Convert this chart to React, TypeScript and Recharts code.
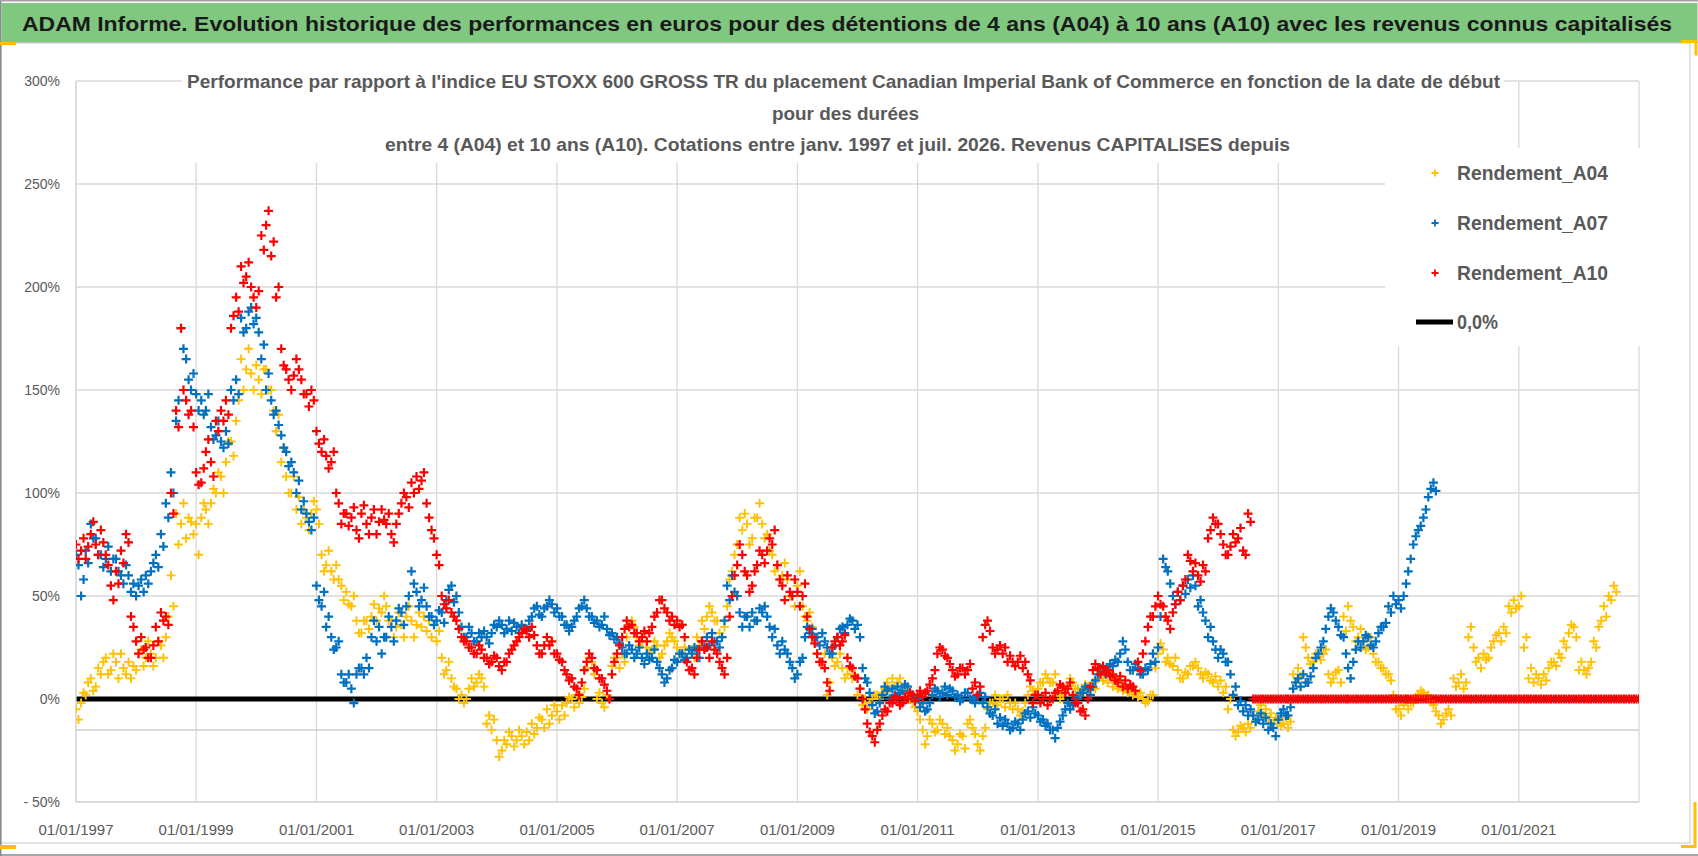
import React from 'react';
import { ComposedChart, Scatter, Line, XAxis, YAxis, CartesianGrid, ReferenceLine } from 'recharts';

const startYear = 1997;

// readings at the start of each month, from 01/1997
const rendementA04 = [
  -5, -2, 2, 10, 6, 12, 20, 14, 18, 22,
  12, 10, 14, 24, 20, 22, 20, 26, 30, 60,
  90, 85, 78, 86, 85, 88, 92, 95, 100, 108,
  115, 125, 135, 165, 160, 158, 162, 148, 160, 150,
  130, 115, 108, 100, 92, 85, 88, 90, 92, 70,
  65, 62, 65, 55, 52, 45, 38, 32, 38, 40,
  38, 42, 45, 38, 35, 36, 40, 38, 36, 35,
  33, 30, 28, 20, 14, 10, 5, 2, 0, 10,
  8, 10, -12, -15, -20, -25, -22, -18, -20, -18,
  -16, -12, -14, -10, -5, -8, -6, -3, -2, 0,
  2, 1, 15, 18, 0, -2, 2, 16, 20, 22,
  30, 38, 30, 28, 25, 24, 26, 22, 28, 30,
  25, 22, 20, 24, 30, 38, 40, 42, 38, 30,
  45, 62, 75, 82, 85, 78, 88, 85, 80, 70,
  65, 60, 58, 50, 55, 45, 38, 35, 22, 18,
  2, 20, 18, 15, 12, 10, 2, -3, -5, 0,
  2, 3, 8, 10, 8, 6, 2, -2, -6, -15,
  -18, -12, -15, -12, -14, -20, -22, -18, -12, -14,
  -22, -18, -5, -2, -3, 0, 2, -5, -5, -6,
  2, 4, 5, 8, 10, 8, 3, 2, 6, 8,
  5, 4, 6, 8, 10, 9, 8, 6, 5, 4,
  3, 2, 1, 0, -1, 2, 22, 24, 20, 16,
  14, 10, 12, 16, 15, 10, 12, 8, 6, 3,
  -5, -15, -16, -14, -12, -8, -6, -8, -10, -12,
  -10, -12, -14, 12, 15, 30, 20, 18, 22, 22,
  12, 10, 14, 40, 45, 35, 30, 28, 25, 22,
  18, 15, 12, 2, -5, -3, -5, -2, 2, 3,
  2, -3, -8, -10, -5, 10, 8, 5, 30, 25,
  20, 22, 20, 28, 32, 35, 45, 48, 45, 25,
  10, 8, 10, 12, 15, 18, 22, 28, 32, 35,
  14, 14, 15, 28, 35, 45, 50, 55,
];

// readings in the middle of each month (the other side of the cloud)
const rendementA04Mid = [
  -10, 3, 8, 4, 15, 18, 12, 22, 10, 15,
  18, 16, 22, 16, 28, 16, 28, 20, 40, 45,
  75, 95, 88, 80, 70, 95, 85, 102, 110, 100,
  125, 118, 145, 150, 170, 150, 155, 160, 150, 140,
  138, 122, 100, 108, 98, 92, 82, 96, 85, 62,
  72, 58, 58, 48, 46, 50, 32, 38, 34, 46,
  44, 50, 38, 30, 42, 30, 45, 30, 42, 40,
  38, 36, 33, 12, 18, 6, 0, -2, 5, 6,
  12, 6, -8, -10, -28, -20, -16, -23, -15, -22,
  -20, -17, -9, -14, -12, -3, -10, -8, 1, -4,
  -2, 5, 20, 12, 3, -4, 0, 20, 15, 18,
  36, 35, 26, 32, 22, 28, 20, 26, 32, 28,
  22, 25, 24, 20, 26, 34, 45, 38, 32, 35,
  58, 70, 88, 90, 75, 88, 95, 78, 72, 62,
  58, 66, 50, 45, 62, 40, 42, 30, 18, 22,
  8, 16, 22, 10, 15, 12, 5, 0, -2, 2,
  0, 5, 5, 6, 10, 4, 0, -4, -10, -22,
  -10, -16, -10, -17, -18, -25, -17, -24, -10, -17,
  -25, -14, -2, 2, 0, -4, -2, -2, -8, -2,
  6, 2, 8, 12, 8, 12, 0, 5, 10, 5,
  2, 7, 2, 5, 13, 12, 13, 10, 7, 6,
  5, 4, 3, -2, 2, 15, 27, 18, 17, 20,
  10, 13, 16, 18, 12, 13, 9, 11, 9, 6,
  0, -18, -13, -16, -14, -11, -3, -5, -7, -9,
  -13, -9, -11, 8, 11, 25, 17, 22, 19, 24,
  8, 13, 8, 33, 38, 28, 34, 24, 30, 18,
  15, 12, 9, -5, -8, 0, -2, 1, 4, 1,
  -1, -6, -12, -7, -8, 6, 12, 8, 35, 18,
  15, 19, 25, 31, 28, 32, 42, 44, 50, 30,
  15, 12, 7, 9, 18, 16, 20, 25, 36, 30,
  18, 12, 18, 25, 38, 40, 48, 52,
];

const rendementA07 = [
  70, 50, 72, 85, 78, 70, 68, 62, 68, 60,
  65, 52, 50, 58, 60, 62, 70, 80, 95, 110,
  135, 180, 165, 150, 148, 145, 140, 132, 128, 125,
  130, 150, 155, 185, 180, 190, 185, 165, 150, 145,
  140, 128, 120, 115, 100, 92, 90, 82, 55, 45,
  35, 30, 25, 12, 8, 5, 12, 15, 20, 30,
  28, 22, 30, 35, 38, 42, 45, 62, 52, 48,
  45, 40, 38, 42, 48, 55, 50, 35, 30, 32,
  28, 30, 30, 32, 35, 36, 34, 33, 35, 36,
  34, 40, 45, 40, 45, 46, 44, 40, 36, 35,
  40, 45, 44, 40, 38, 36, 34, 32, 30, 25,
  22, 24, 22, 20, 22, 20, 18, 12, 10, 15,
  18, 22, 20, 22, 24, 28, 30, 32, 28, 30,
  55, 60, 50, 35, 40, 42, 38, 42, 40, 30,
  26, 28, 22, 15, 12, 20, 35, 34, 30, 32,
  25, 22, 30, 35, 36, 38, 36, 15, 8, -3,
  -6, 2, 4, 5, 6, 4, 6, 2, 0, -2,
  -5, 2, 4, 3, 2, 4, 2, 0, 3, 0,
  1, -2, -4, -8, -12, -13, -12, -14, -12, -10,
  -6, -4, -8, -10, -12, -15, -14, -8, -2, -3,
  0, 3, 5, 6, 12, 15, 14, 16, 18, 28,
  18, 14, 15, 12, 14, 22, 25, 68, 62, 50,
  52, 55, 58, 60, 45, 42, 30, 28, 20, 22,
  18, 2, -3, -6, -8, -8, -10, -12, -15, -14,
  -10, -5, -8, 5, 10, 12, 8, 15, 22, 28,
  40, 42, 35, 30, 15, 18, 28, 28, 30, 25,
  32, 35, 45, 50, 48, 50, 62, 75, 82, 88, 98, 105,
];

const rendementA07Mid = [
  65, 58, 66, 78, 70, 64, 74, 68, 62, 56,
  60, 56, 55, 52, 56, 66, 64, 74, 88, 100,
  145, 170, 155, 158, 140, 138, 148, 126, 135, 122,
  124, 145, 148, 178, 188, 182, 178, 172, 158, 138,
  133, 122, 113, 110, 106, 96, 86, 88, 48, 52,
  40, 24, 28, 8, 12, -2, 15, 12, 15, 38,
  35, 30, 40, 28, 44, 36, 50, 56, 45, 54,
  40, 36, 43, 37, 53, 47, 42, 30, 35, 28,
  32, 33, 27, 36, 38, 32, 38, 37, 32, 34,
  38, 44, 41, 44, 48, 42, 40, 36, 33, 38,
  44, 48, 40, 37, 35, 40, 31, 29, 27, 22,
  26, 20, 25, 17, 19, 24, 15, 8, 14, 19,
  22, 19, 24, 25, 20, 25, 26, 28, 25, 38,
  48, 52, 42, 40, 35, 38, 44, 45, 35, 34,
  22, 24, 18, 10, 18, 30, 32, 30, 26, 28,
  22, 26, 34, 32, 39, 34, 30, 10, 3, -7,
  -2, 6, 0, 2, 3, 7, 3, -1, -4, -6,
  -2, 5, 1, 6, 5, 1, -1, 3, 0, -2,
  3, 1, -7, -5, -9, -10, -15, -11, -15, -7,
  -9, -7, -11, -13, -15, -19, -11, -5, -5, 0,
  3, 6, 2, 9, 15, 12, 17, 19, 22, 24,
  14, 17, 12, 15, 17, 18, 40, 64, 56, 46,
  48, 51, 54, 55, 48, 38, 35, 24, 24, 18,
  12, 6, -1, -3, -5, -11, -7, -9, -12, -18,
  -7, -8, -4, 8, 6, 8, 11, 20, 25, 34,
  44, 38, 31, 22, 10, 24, 25, 31, 26, 28,
  35, 37, 42, 46, 44, 56, 68, 79, 84, 92, 102, 101,
];

const rendementA10 = [
  75, 72, 68, 80, 75, 82, 70, 55, 62, 72,
  80, 40, 28, 30, 25, 20, 35, 42, 40, 100,
  140, 180, 145, 140, 110, 105, 120, 115, 135, 140,
  145, 180, 195, 210, 205, 200, 190, 225, 230, 215,
  195, 170, 160, 150, 165, 155, 148, 150, 130, 120,
  118, 115, 100, 85, 90, 88, 82, 90, 85, 88,
  80, 92, 85, 80, 85, 95, 98, 105, 108, 106,
  95, 82, 70, 50, 44, 42, 38, 30, 28, 25,
  22, 24, 20, 18, 20, 14, 18, 24, 28, 32,
  33, 35, 26, 22, 30, 28, 22, 18, 12, 10,
  5, 8, 18, 20, 14, 10, 4, 12, 22, 30,
  38, 36, 32, 30, 28, 35, 42, 48, 42, 40,
  38, 36, 18, 15, 20, 28, 25, 28, 22, 15,
  20, 50, 65, 70, 60, 55, 65, 70, 72, 75,
  65, 55, 60, 50, 52, 50, 40, 30, 22, 18,
  8, 25, 30, 28, 20, 15, 10, 0, -12, -18,
  -15, -8, -6, -2, 0, -2, 0, 2, 2, 1,
  4, 10, 22, 24, 20, 14, 12, 15, 14, 5,
  2, 30, 38, 25, 24, 22, 18, 18, 18, 15,
  12, -2, 2, 0, -3, 0, 4, 6, 5, 2,
  -2, -5, 0, 14, 15, 16, 14, 12, 8, 6,
  5, 6, 18, 22, 35, 40, 50, 45, 38, 42,
  52, 55, 70, 62, 60, 65, 78, 88, 85, 75,
  70, 80, 78, 72, 90,
];

const rendementA10Mid = [
  68, 78, 74, 86, 70, 76, 65, 48, 56, 66,
  76, 35, 22, 24, 20, 26, 28, 38, 36, 90,
  132, 150, 138, 132, 104, 112, 126, 108, 130, 135,
  138, 186, 188, 202, 212, 195, 198, 218, 237, 222,
  200, 162, 155, 157, 160, 148, 142, 145, 124, 126,
  112, 120, 95, 90, 84, 93, 78, 94, 80, 92,
  86, 87, 90, 76, 90, 100, 93, 100, 102, 110,
  88, 78, 65, 46, 48, 40, 34, 28, 25, 22,
  26, 20, 17, 21, 16, 18, 22, 26, 30, 34,
  30, 31, 22, 26, 26, 22, 19, 14, 9, 6,
  2, 14, 22, 15, 10, 7, 0, 18, 26, 34,
  35, 32, 28, 33, 32, 40, 48, 44, 38, 36,
  35, 30, 14, 12, 24, 24, 20, 24, 18, 12,
  40, 60, 75, 62, 52, 62, 72, 66, 78, 82,
  58, 48, 52, 58, 45, 56, 34, 27, 18, 15,
  4, 28, 26, 31, 16, 11, 5, -5, -16, -21,
  -12, -5, -2, 1, -3, 1, 3, -1, 4, 3,
  7, 14, 25, 21, 17, 11, 15, 12, 17, 8,
  6, 36, 33, 22, 26, 25, 21, 16, 21, 18,
  9, 2, -2, 3, 0, 3, 7, 3, 8, -2,
  -6, -8, 6, 17, 12, 13, 11, 9, 11, 9,
  7, 4, 14, 28, 40, 45, 46, 40, 34, 46,
  48, 58, 67, 66, 57, 62, 82, 85, 80, 70,
  74, 76, 83, 70, 86,
];

// A10 reads 0 once the 10-year window runs past the last quote (07/2016 -> 12/2022)
const rendementA10Zero = [
  0, 0, 0, 0, 0, 0, 0, 0, 0, 0, 0, 0, 0,
  0, 0, 0, 0, 0, 0, 0, 0, 0, 0, 0, 0, 0,
  0, 0, 0, 0, 0, 0, 0, 0, 0, 0, 0, 0, 0,
  0, 0, 0, 0, 0, 0, 0, 0, 0, 0, 0, 0, 0,
  0, 0, 0, 0, 0, 0, 0, 0, 0, 0, 0, 0, 0,
  0, 0, 0, 0, 0, 0, 0, 0, 0, 0, 0, 0, 0,
];

const yTicks = [-50, 0, 50, 100, 150, 200, 250, 300];
const xTickYears = [1997, 1999, 2001, 2003, 2005, 2007, 2009, 2011, 2013, 2015, 2017, 2019, 2021];
const endYear = 2023;

const mainTitle =
  'ADAM Informe. Evolution historique des performances en euros pour des détentions de 4 ans (A04) à 10 ans (A10) avec les revenus connus capitalisés';
const chartTitle = [
  "Performance par rapport à l'indice EU STOXX 600 GROSS TR  du placement Canadian Imperial Bank of Commerce en fonction de la date de début",
  'pour des durées',
  'entre 4 (A04) et 10 ans (A10). Cotations entre janv. 1997 et juil. 2026. Revenus CAPITALISES depuis',
];
const legendItems = [
  { name: 'Rendement_A04', color: '#FFC000' },
  { name: 'Rendement_A07', color: '#0070C0' },
  { name: 'Rendement_A10', color: '#FF0000' },
];

const toPoints = (values: number[], day: number) =>
  values.map((v, i) => ({ t: Date.UTC(startYear, i, day), v }));

const dataA04 = [...toPoints(rendementA04, 1), ...toPoints(rendementA04Mid, 16)];
const dataA07 = [...toPoints(rendementA07, 1), ...toPoints(rendementA07Mid, 16)];
const dataA10 = [
  ...toPoints([...rendementA10, ...rendementA10Zero], 1),
  ...toPoints([...rendementA10Mid, ...rendementA10Zero], 16),
];
const zeroLine = [
  { t: Date.UTC(startYear, 0, 1), v: 0 },
  { t: Date.UTC(endYear, 0, 1), v: 0 },
];

const sans = "'Liberation Sans', Arial, sans-serif";
const grey = '#595959';

const plus = (color: string, w: number) => (props: any) => {
  const { cx, cy } = props;
  if (cx == null || cy == null) return <g />;
  return (
    <path
      d={`M${cx - 4.5},${cy}h9M${cx},${cy - 4.5}v9`}
      stroke={color}
      strokeWidth={w}
      fill="none"
    />
  );
};

const fmtDate = (t: number) => `01/01/${new Date(t).getUTCFullYear()}`;
const fmtPct = (v: number) => (v < 0 ? `- ${-v}%` : `${v}%`);

const App: React.FC = () => {
  return (
    <div style={{ position: 'absolute', left: 0, top: 0, width: 1698, height: 856, background: '#fff' }}>
      <ComposedChart
        width={1698}
        height={856}
        margin={{ top: 81, right: 59, bottom: 24, left: 16 }}
      >
        <CartesianGrid stroke="#d9d9d9" strokeWidth={1.3} />
        <XAxis
          type="number"
          dataKey="t"
          domain={[Date.UTC(startYear, 0, 1), Date.UTC(endYear, 0, 1)]}
          ticks={xTickYears.map((y) => Date.UTC(y, 0, 1))}
          tickFormatter={fmtDate}
          height={30}
          tickSize={0}
          tickMargin={22}
          axisLine={{ stroke: '#d9d9d9', strokeWidth: 1.3 }}
          tick={{ fill: grey, fontSize: 15, fontFamily: sans }}
          allowDataOverflow
        />
        <YAxis
          type="number"
          dataKey="v"
          domain={[-50, 300]}
          ticks={yTicks}
          tickFormatter={fmtPct}
          width={60}
          tickSize={0}
          tickMargin={16}
          axisLine={{ stroke: '#d9d9d9', strokeWidth: 1.3 }}
          tick={{ fill: grey, fontSize: 14, fontFamily: sans }}
        />
        <ReferenceLine y={-15} stroke="#cfcfcf" strokeWidth={1.5} />
        <Line
          data={zeroLine}
          dataKey="v"
          stroke="#000"
          strokeWidth={5}
          dot={false}
          isAnimationActive={false}
          legendType="none"
        />
        <Scatter data={dataA04} fill="#FFC000" shape={plus('#FFC000', 1.9)} isAnimationActive={false} />
        <Scatter data={dataA07} fill="#0070C0" shape={plus('#0070C0', 2.2)} isAnimationActive={false} />
        <Scatter data={dataA10} fill="#FF0000" shape={plus('#FF0000', 2.2)} isAnimationActive={false} />
      </ComposedChart>

      <svg
        width={1698}
        height={856}
        style={{ position: 'absolute', left: 0, top: 0, pointerEvents: 'none' }}
      >
        {/* frame */}
        <rect x={1} y={43} width={1689} height={800} fill="none" stroke="#c8c8c8" strokeWidth={1} />
        <line x1={0.75} y1={0} x2={0.75} y2={856} stroke="#8a8a8a" strokeWidth={1.5} />
        <line x1={0} y1={855} x2={1698} y2={855} stroke="#8a8a8a" strokeWidth={1.5} />
        <line x1={0} y1={0.75} x2={1698} y2={0.75} stroke="#a0a0a0" strokeWidth={1.5} />

        {/* green header */}
        <rect x={1.5} y={3} width={1696} height={39} fill="#80c880" />
        <line x1={0} y1={42.5} x2={1698} y2={42.5} stroke="#bdbdbd" strokeWidth={1} />
        <text
          x={22}
          y={31}
          textLength={1650}
          lengthAdjust="spacingAndGlyphs"
          fontFamily={sans}
          fontWeight="bold"
          fontSize={21}
          fill="#1a1a1a"
        >
          {mainTitle}
        </text>

        {/* chart title box */}
        <rect x={182} y={58} width={1322} height={105} fill="#fff" />
        <text x={187} y={88} textLength={1313} lengthAdjust="spacingAndGlyphs" fontFamily={sans} fontWeight="bold" fontSize={19} fill={grey}>
          {chartTitle[0]}
        </text>
        <text x={772} y={119.5} textLength={147} lengthAdjust="spacingAndGlyphs" fontFamily={sans} fontWeight="bold" fontSize={19} fill={grey}>
          {chartTitle[1]}
        </text>
        <text x={385} y={151} textLength={905} lengthAdjust="spacingAndGlyphs" fontFamily={sans} fontWeight="bold" fontSize={19} fill={grey}>
          {chartTitle[2]}
        </text>

        {/* legend */}
        <rect x={1385} y={148} width={255} height={198} fill="#fff" />
        {legendItems.map((it, i) => {
          const y = 173 + i * 50;
          return (
            <g key={it.name}>
              <path d={`M${1431.5},${y}h7M${1435},${y - 3.5}v7`} stroke={it.color} strokeWidth={1.8} />
              <text
                x={1457}
                y={y + 7}
                textLength={151}
                lengthAdjust="spacingAndGlyphs"
                fontFamily={sans}
                fontWeight="bold"
                fontSize={20}
                fill={grey}
              >
                {it.name}
              </text>
            </g>
          );
        })}
        <line x1={1416} y1={322} x2={1453} y2={322} stroke="#000" strokeWidth={5} />
        <text x={1457} y={329} textLength={41} lengthAdjust="spacingAndGlyphs" fontFamily={sans} fontWeight="bold" fontSize={20} fill={grey}>
          0,0%
        </text>

        {/* selection handles */}
        <rect x={0} y={42} width={16} height={3} fill="#FFC000" />
        <rect x={0} y={845} width={16} height={4} fill="#FFC000" />
        <path d="M1681,41.5h15v14" stroke="#FFC000" strokeWidth={3} fill="none" />
        <path d="M1695,802v44.5h-14" stroke="#FFC000" strokeWidth={3} fill="none" />
      </svg>
    </div>
  );
};

export default App;
